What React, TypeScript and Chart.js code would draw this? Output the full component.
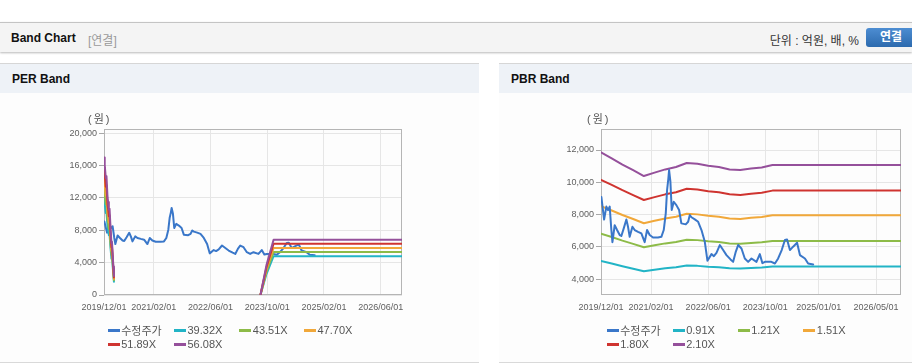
import React, { useEffect, useRef } from 'react';
import { Chart, registerables } from 'chart.js';

Chart.register(...registerables);

// ---------- data ----------
const priceLabel = '수정주가';
const priceDates = [
  '2019/12/04', '2019/12/27', '2020/01/16', '2020/01/30', '2020/02/14', '2020/02/28', '2020/03/07', '2020/03/26',
  '2020/04/16', '2020/05/08', '2020/05/22', '2020/06/12', '2020/07/04', '2020/07/18', '2020/08/02', '2020/08/25',
  '2020/09/14', '2020/10/12', '2020/11/10', '2020/12/08', '2020/12/28', '2021/01/20', '2021/02/18', '2021/03/30',
  '2021/04/28', '2021/05/18', '2021/06/05', '2021/06/16', '2021/06/27', '2021/07/03', '2021/07/14', '2021/07/25',
  '2021/08/12', '2021/09/04', '2021/09/27', '2021/10/16', '2021/11/23', '2021/12/13', '2021/12/27', '2022/01/11',
  '2022/02/09', '2022/03/07', '2022/04/05', '2022/05/03', '2022/05/25', '2022/06/29', '2022/07/19', '2022/08/11',
  '2022/09/09', '2022/10/07', '2022/11/05', '2022/12/09', '2023/01/01', '2023/01/23', '2023/02/13', '2023/03/11',
  '2023/04/09', '2023/05/07', '2023/06/05', '2023/07/17', '2023/08/15', '2023/09/07', '2023/09/28', '2023/11/22',
  '2023/12/22', '2024/01/19', '2024/02/19', '2024/03/16', '2024/04/04', '2024/04/28', '2024/05/25', '2024/06/28',
  '2024/07/22', '2024/09/04', '2024/10/01', '2024/11/13',
];
const priceValues = [
  9100, 7700, 8500, 8280, 8500, 7050, 6300, 7350,
  7050, 6740, 6680, 7150, 7700, 7250, 6630, 7250,
  7050, 6940, 6840, 6300, 7050, 6740, 6590, 6590,
  6630, 7050, 8080, 9520, 10250, 10760, 10040, 8290,
  8800, 8590, 8290, 7460, 7400, 7560, 7980, 7840,
  7710, 7560, 7050, 6320, 5150, 5560, 5430, 5640,
  6120, 5810, 5500, 5230, 5080, 5700, 6120, 5910,
  5290, 5080, 5290, 5080, 5560, 5000, 5080, 5080,
  4980, 5290, 5810, 6430, 6460, 5810, 6020, 6260,
  5500, 5290, 4980, 4920,
];

// PER band base (EPS, 원) — null = no band
const perEpsDates = [
  '2019/12/01', '2019/12/05', '2019/12/09', '2019/12/16', '2019/12/22', '2019/12/31', '2020/01/06', '2020/01/12',
  '2020/01/18', '2020/01/27', '2020/02/04', '2020/02/08', '2020/02/14', '2020/02/20', '2020/02/25', '2020/03/15',
  '2023/08/04', '2023/09/25', '2023/11/25', '2026/12/01',
];
const perEpsValues = [
  303, 283, 287, 258, 262, 214, 205, 188,
  190, 144, 114, 118, 93, 63, 42, null,
  0, 66, 122, 122,
];
const perMultiples = [39.32, 43.51, 47.7, 51.89, 56.08];
const perBandLabels = ['39.32X', '43.51X', '47.70X', '51.89X', '56.08X'];

// PBR band base (BPS, 원)
const pbrBpsDates = [
  '2019/12/01', '2020/03/01', '2020/06/01', '2020/09/01', '2020/12/01', '2021/03/01', '2021/06/01', '2021/09/01',
  '2021/12/01', '2022/03/01', '2022/06/01', '2022/09/01', '2022/12/01', '2023/03/01', '2023/06/01', '2023/09/01',
  '2023/12/01', '2026/12/01',
];
const pbrBpsValues = [
  5643, 5467, 5286, 5119, 4948, 5048, 5143, 5214,
  5333, 5310, 5252, 5214, 5143, 5124, 5167, 5200,
  5271, 5271,
];
const pbrMultiples = [0.91, 1.21, 1.51, 1.8, 2.1];
const pbrBandLabels = ['0.91X', '1.21X', '1.51X', '1.80X', '2.10X'];

const xStartDate = '2019/12/01';
const xEndDate = '2026/12/01';
const perXTickLabels = ['2019/12/01', '2021/02/01', '2022/06/01', '2023/10/01', '2025/02/01', '2026/06/01'];
const pbrXTickLabels = ['2019/12/01', '2021/02/01', '2022/06/01', '2023/10/01', '2025/01/01', '2026/05/01'];
const perYTicks = [0, 4000, 8000, 12000, 16000, 20000];
const pbrYTicks = [4000, 6000, 8000, 10000, 12000];
const perYRange = [0, 20530];
const pbrYRange = [3030, 13300];

const priceColor = '#3a77c9';
const bandColors = ['#22b4c6', '#8dbb48', '#f1a83a', '#cf3430', '#95509b'];

// ---------- helpers ----------
const FONT = '"Liberation Sans", Arial, "Noto Sans CJK KR", sans-serif';
Chart.defaults.font.family = FONT;

function toMonths(s: string): number {
  const [y, m, d] = s.split('/').map(Number);
  const [y0, m0] = xStartDate.split('/').map(Number);
  return (y - y0) * 12 + (m - m0) + (d - 1) / 30;
}

function series(dates: string[], values: (number | null)[], mult = 1) {
  return dates.map((d, i) => ({
    x: toMonths(d),
    y: values[i] == null ? null : Math.round((values[i] as number) * mult),
  }));
}

const framePlugin = {
  id: 'frame',
  beforeDatasetsDraw(chart: any) {
    const { ctx, chartArea: a } = chart;
    ctx.save();
    ctx.strokeStyle = '#b5b5b5';
    ctx.lineWidth = 1;
    ctx.strokeRect(Math.round(a.left) + 0.5, Math.round(a.top) + 0.5, Math.round(a.right - a.left) - 1, Math.round(a.bottom - a.top) - 1);
    ctx.restore();
  },
};

type Area = { left: number; right: number; top: number; bottom: number };

function BandCanvas(props: {
  datasets: any[];
  xLabels: string[];
  yTicks: number[];
  yRange: number[];
  area: Area;
  left: number;
  top: number;
  width: number;
  height: number;
}) {
  const ref = useRef<HTMLCanvasElement>(null);
  useEffect(() => {
    const { datasets, xLabels, yTicks, yRange, area, width, height } = props;
    const xTicks = xLabels.map(toMonths);
    const chart = new Chart(ref.current as HTMLCanvasElement, {
      type: 'line',
      data: { datasets },
      options: {
        animation: false,
        responsive: false,
        events: [],
        layout: { padding: { left: 0, top: area.top, right: width - area.right, bottom: 0 } },
        plugins: { legend: { display: false }, tooltip: { enabled: false } },
        elements: { point: { radius: 0 }, line: { tension: 0, borderJoinStyle: 'round', borderCapStyle: 'round' } },
        scales: {
          x: {
            type: 'linear',
            min: 0,
            max: toMonths(xEndDate),
            afterBuildTicks: (s: any) => {
              s.ticks = xTicks.map((v) => ({ value: v }));
            },
            afterFit: (s: any) => {
              s.height = height - area.bottom;
            },
            ticks: {
              autoSkip: false,
              maxRotation: 0,
              padding: 7,
              color: '#606060',
              font: { size: 9 },
              callback: (_v: any, i: number) => xLabels[i],
            },
            grid: { color: '#e6e6e6', drawTicks: false },
            border: { display: false },
          },
          y: {
            type: 'linear',
            min: yRange[0],
            max: yRange[1],
            afterBuildTicks: (s: any) => {
              s.ticks = yTicks.map((v) => ({ value: v }));
            },
            afterFit: (s: any) => {
              s.width = area.left;
            },
            ticks: {
              padding: 2,
              color: '#606060',
              font: { size: 9 },
              callback: (v: any) => Number(v).toLocaleString('en-US'),
            },
            grid: { color: '#e6e6e6', tickColor: '#a8a8a8', tickLength: 5 },
            border: { display: false },
          },
        },
      } as any,
      plugins: [framePlugin],
    });
    return () => chart.destroy();
  }, []);
  return (
    <canvas
      ref={ref}
      width={props.width}
      height={props.height}
      style={{ position: 'absolute', left: props.left, top: props.top, width: props.width, height: props.height }}
    />
  );
}

function Legend(props: { labels: string[]; colors: string[]; xs: number[]; rows: number[] }) {
  return (
    <>
      {props.labels.map((lab, i) => {
        const col = i % 4;
        const row = Math.floor(i / 4);
        return (
          <div
            key={lab}
            style={{
              position: 'absolute',
              left: props.xs[col],
              top: props.rows[row] - 8,
              height: 16,
              display: 'flex',
              alignItems: 'center',
              whiteSpace: 'nowrap',
            }}
          >
            <span style={{ display: 'inline-block', width: 12, height: 3, background: props.colors[i] }} />
            <span style={{ marginLeft: 1.5, fontSize: 11, color: '#555', fontFamily: FONT }}>{lab}</span>
          </div>
        );
      })}
    </>
  );
}

function buildDatasets(
  dates: string[],
  values: (number | null)[],
  multiples: number[],
  labels: string[],
  priceOnTop: boolean,
) {
  const price = {
    label: priceLabel,
    data: series(priceDates, priceValues),
    borderColor: priceColor,
    backgroundColor: priceColor,
    borderWidth: 2,
    order: priceOnTop ? 0 : 10,
  };
  const bands = multiples.map((m, i) => ({
    label: labels[i],
    data: series(dates, values, m),
    borderColor: bandColors[i],
    backgroundColor: bandColors[i],
    borderWidth: 2,
    spanGaps: false,
    order: 6 - i,
  }));
  return [price, ...bands];
}

export default function App() {
  const perDatasets = buildDatasets(perEpsDates, perEpsValues, perMultiples, perBandLabels, false);
  const pbrDatasets = buildDatasets(pbrBpsDates, pbrBpsValues, pbrMultiples, pbrBandLabels, true);
  const legendColors = [priceColor, ...bandColors];

  const panelHeader = (left: number, width: number, title: string) => (
    <div
      style={{
        position: 'absolute',
        left,
        top: 63,
        width,
        height: 29,
        borderTop: '1px solid #d6d6d6',
        background: '#eef2f7',
      }}
    >
      <span style={{ position: 'absolute', left: 12, top: 8, fontSize: 12, fontWeight: 'bold', color: '#111' }}>{title}</span>
    </div>
  );

  const panelBody = (left: number, width: number) => (
    <div
      style={{
        position: 'absolute',
        left,
        top: 93,
        width,
        height: 269,
        background: '#fdfdfd',
        borderBottom: '1px solid #d9d9d9',
      }}
    />
  );

  return (
    <div
      style={{
        position: 'absolute',
        left: 0,
        top: 0,
        width: 912,
        height: 364,
        overflow: 'hidden',
        background: '#fff',
        fontFamily: FONT,
      }}
    >
      {/* top bar */}
      <div
        style={{
          position: 'absolute',
          left: 0,
          top: 22,
          width: 912,
          height: 29,
          borderTop: '1px solid #c4c4c4',
          background: '#f4f4f4',
          boxShadow: '0 1px 2px rgba(0,0,0,0.28)',
        }}
      >
        <span style={{ position: 'absolute', left: 11, top: 8, fontSize: 12, fontWeight: 'bold', color: '#111' }}>Band Chart</span>
        <span style={{ position: 'absolute', left: 88, top: 8, fontSize: 12, color: '#9a9a9a' }}>[연결]</span>
        <span style={{ position: 'absolute', right: 53, top: 8, fontSize: 12, color: '#333', whiteSpace: 'nowrap' }}>
          단위 : 억원, 배, %
        </span>
        <div
          style={{
            position: 'absolute',
            left: 866,
            top: 5,
            width: 52,
            height: 19,
            borderRadius: 3,
            background: 'linear-gradient(#4d8dd2, #2c6aae)',
            color: '#fff',
            fontSize: 12,
            fontWeight: 'bold',
            lineHeight: '19px',
            paddingLeft: 14,
            boxSizing: 'border-box',
          }}
        >
          연결
        </div>
      </div>

      {panelHeader(0, 479, 'PER Band')}
      {panelHeader(499, 413, 'PBR Band')}
      {panelBody(0, 479)}
      {panelBody(499, 413)}

      <BandCanvas
        datasets={perDatasets}
        xLabels={perXTickLabels}
        yTicks={perYTicks}
        yRange={perYRange}
        area={{ left: 104, right: 402, top: 36, bottom: 202 }}
        left={0}
        top={93}
        width={479}
        height={269}
      />
      <BandCanvas
        datasets={pbrDatasets}
        xLabels={pbrXTickLabels}
        yTicks={pbrYTicks}
        yRange={pbrYRange}
        area={{ left: 102, right: 402, top: 36, bottom: 202 }}
        left={499}
        top={93}
        width={413}
        height={269}
      />

      <span style={{ position: 'absolute', left: 88, top: 110, fontSize: 11, color: '#555', letterSpacing: 2 }}>(원)</span>
      <span style={{ position: 'absolute', left: 587, top: 110, fontSize: 11, color: '#555', letterSpacing: 2 }}>(원)</span>

      <Legend labels={[priceLabel, ...perBandLabels]} colors={legendColors} xs={[107.7, 174, 239.3, 304]} rows={[330, 344]} />
      <Legend labels={[priceLabel, ...pbrBandLabels]} colors={legendColors} xs={[606.7, 672.7, 737.7, 803.3]} rows={[330, 344]} />
    </div>
  );
}
